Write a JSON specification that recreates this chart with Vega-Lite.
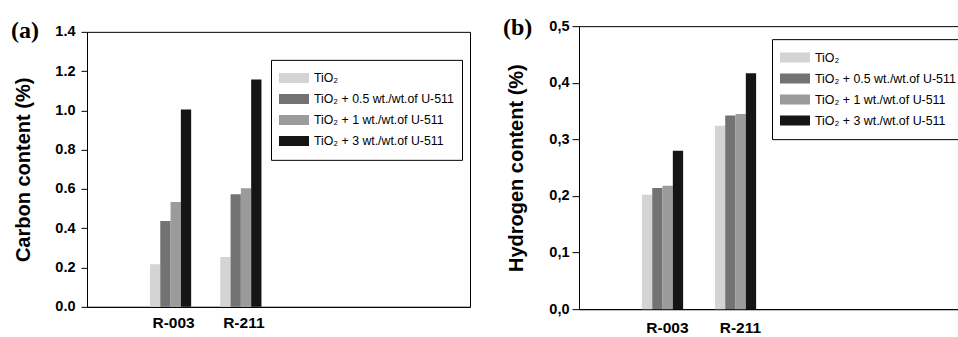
{
  "$schema": "https://vega.github.io/schema/vega-lite/v6.json",
  "padding": {"left": 10, "top": 15, "right": 0, "bottom": 0},
  "autosize": {"type": "pad"},
  "spacing": 31,
  "center": true,
  "bounds": "full",
  "resolve": {"scale": {"color": "independent"}, "legend": {"color": "independent"}},
  "config": {
    "background": "white",
    "view": {"stroke": "black", "strokeWidth": 1},
    "axis": {"domainColor": "black", "tickColor": "black", "labelColor": "black", "titleColor": "black", "labelFont": "Liberation Sans", "titleFont": "Liberation Sans", "grid": false, "labelFontWeight": "bold", "titleFontWeight": "bold"},
    "legend": {"orient": "none", "title": null, "strokeColor": "black", "fillColor": "white", "padding": 8, "symbolType": "M-1,-0.333H1V0.333H-1Z", "symbolSize": 900, "symbolStrokeWidth": 0, "symbolOpacity": 1, "labelFont": "Liberation Sans", "labelColor": "black", "labelOffset": 5, "rowPadding": 0, "labelLimit": 300}
  },
  "datasets": {
    "carbon": [
      {"sample": "R-003", "material": "TiO₂", "value": 0.217},
      {"sample": "R-003", "material": "TiO₂ + 0.5 wt./wt.of U-511", "value": 0.437},
      {"sample": "R-003", "material": "TiO₂ + 1 wt./wt.of U-511", "value": 0.534},
      {"sample": "R-003", "material": "TiO₂ + 3 wt./wt.of U-511", "value": 1.005},
      {"sample": "R-211", "material": "TiO₂", "value": 0.254},
      {"sample": "R-211", "material": "TiO₂ + 0.5 wt./wt.of U-511", "value": 0.573},
      {"sample": "R-211", "material": "TiO₂ + 1 wt./wt.of U-511", "value": 0.604},
      {"sample": "R-211", "material": "TiO₂ + 3 wt./wt.of U-511", "value": 1.158}
    ],
    "hydrogen": [
      {"sample": "R-003", "material": "TiO₂", "value": 0.202},
      {"sample": "R-003", "material": "TiO₂ + 0.5 wt./wt.of U-511", "value": 0.214},
      {"sample": "R-003", "material": "TiO₂ + 1 wt./wt.of U-511", "value": 0.218},
      {"sample": "R-003", "material": "TiO₂ + 3 wt./wt.of U-511", "value": 0.280},
      {"sample": "R-211", "material": "TiO₂", "value": 0.324},
      {"sample": "R-211", "material": "TiO₂ + 0.5 wt./wt.of U-511", "value": 0.342},
      {"sample": "R-211", "material": "TiO₂ + 1 wt./wt.of U-511", "value": 0.345},
      {"sample": "R-211", "material": "TiO₂ + 3 wt./wt.of U-511", "value": 0.417}
    ]
  },
  "hconcat": [
    {
      "width": 383,
      "height": 275,
      "title": {"text": "(a)", "anchor": "start", "frame": "group", "orient": "top", "offset": -19, "dx": -76, "font": "Liberation Serif", "fontSize": 24, "fontWeight": "bold", "color": "black"},
      "data": {"name": "carbon"},
      "mark": {"type": "bar"},
      "encoding": {
        "x": {"field": "sample", "type": "nominal", "scale": {"domain": ["R-003", "R-211", "e1", "e2"], "paddingInner": 0.414, "paddingOuter": 0.931, "align": 0.481, "round": false},
              "axis": {"title": null, "labelAngle": 0, "ticks": false, "labelFontSize": 15.5, "labelPadding": 8.3, "labelOffset": 3, "labelExpr": "indexof(datum.value, 'R-') == 0 ? datum.value : ''"}},
        "xOffset": {"field": "material", "type": "nominal", "scale": {"domain": ["TiO₂", "TiO₂ + 0.5 wt./wt.of U-511", "TiO₂ + 1 wt./wt.of U-511", "TiO₂ + 3 wt./wt.of U-511"], "paddingInner": 0, "paddingOuter": 0}},
        "y": {"field": "value", "type": "quantitative", "scale": {"domain": [0, 1.4], "nice": false},
              "axis": {"title": "Carbon content (%)", "values": [0, 0.2, 0.4, 0.6, 0.8, 1.0, 1.2, 1.4], "format": ".1f", "labelFontSize": 14.5, "tickSize": 6, "labelPadding": 6, "titleFontSize": 20, "titlePadding": 21}},
        "color": {"field": "material", "type": "nominal",
                  "scale": {"domain": ["TiO₂", "TiO₂ + 0.5 wt./wt.of U-511", "TiO₂ + 1 wt./wt.of U-511", "TiO₂ + 3 wt./wt.of U-511"], "range": ["#d4d4d4", "#737373", "#9b9b9b", "#151515"]},
                  "legend": {"legendX": 184, "legendY": 28, "labelFontSize": 12.3, "clipHeight": 20.3}}
      }
    },
    {
      "width": 383,
      "height": 283,
      "title": {"text": "(b)", "anchor": "start", "frame": "group", "orient": "top", "offset": -21.8, "dx": -76, "font": "Liberation Serif", "fontSize": 24, "fontWeight": "bold", "color": "black"},
      "data": {"name": "hydrogen"},
      "mark": {"type": "bar"},
      "encoding": {
        "x": {"field": "sample", "type": "nominal", "scale": {"domain": ["R-003", "R-211", "e1", "e2"], "paddingInner": 0.411, "paddingOuter": 0.829, "align": 0.52, "round": false},
              "axis": {"title": null, "labelAngle": 0, "ticks": false, "labelFontSize": 15.5, "labelPadding": 11.7, "labelOffset": 4, "labelExpr": "indexof(datum.value, 'R-') == 0 ? datum.value : ''"}},
        "xOffset": {"field": "material", "type": "nominal", "scale": {"domain": ["TiO₂", "TiO₂ + 0.5 wt./wt.of U-511", "TiO₂ + 1 wt./wt.of U-511", "TiO₂ + 3 wt./wt.of U-511"], "paddingInner": 0, "paddingOuter": 0}},
        "y": {"field": "value", "type": "quantitative", "scale": {"domain": [0, 0.5], "nice": false},
              "axis": {"title": "Hydrogen content (%)", "values": [0, 0.1, 0.2, 0.3, 0.4, 0.5], "labelExpr": "replace(format(datum.value, '.1f'), '.', ',')", "labelFontSize": 14.5, "tickSize": 7, "labelPadding": 3, "titleFontSize": 20, "titlePadding": 22}},
        "color": {"field": "material", "type": "nominal",
                  "scale": {"domain": ["TiO₂", "TiO₂ + 0.5 wt./wt.of U-511", "TiO₂ + 1 wt./wt.of U-511", "TiO₂ + 3 wt./wt.of U-511"], "range": ["#d4d4d4", "#737373", "#9b9b9b", "#151515"]},
                  "legend": {"legendX": 193, "legendY": 13, "labelFontSize": 12.4, "clipHeight": 20.7}}
      }
    }
  ]
}
